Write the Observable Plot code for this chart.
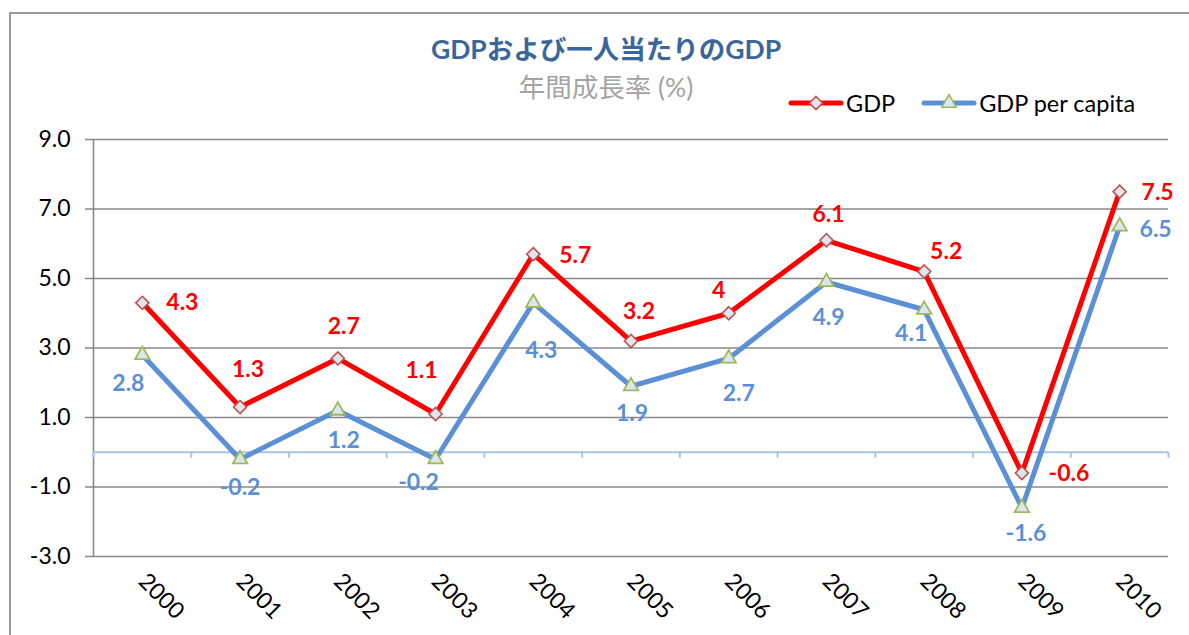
<!DOCTYPE html>
<html><head><meta charset="utf-8">
<script src="https://cdn.jsdelivr.net/npm/d3@7"></script>
<script src="https://cdn.jsdelivr.net/npm/@observablehq/plot@0.6"></script>
<style>
body{margin:0;overflow:hidden;background:#fff;font-family:Lato,"Noto Sans CJK JP",sans-serif}
#wrap{position:relative;width:1189px;height:635px}
#frame{position:absolute;left:9px;top:12px;width:1200px;height:660px;border:2px solid #9a9a9a;box-sizing:border-box}
#title{position:absolute;left:306px;width:600px;top:33px;text-align:center;font-size:26.5px;font-weight:bold;color:#3a669c;font-family:Lato,"Noto Sans CJK JP",sans-serif;line-height:32px}
#subtitle{position:absolute;left:306px;width:600px;top:71px;text-align:center;font-size:26.5px;color:#a3a3a3;line-height:32px}
#legend{position:absolute;left:788px;top:83px;font-size:23.5px;color:#000;line-height:30px;white-space:nowrap}
#legend span{display:inline-block;vertical-align:middle}
#chart{position:absolute;left:0;top:0}
</style></head>
<body>
<div id="wrap">
<div id="frame"></div>
<div id="chart"></div>
<div id="title">GDPおよび一人当たりのGDP</div>
<div id="subtitle">年間成長率 (%)</div>
<div id="legend"></div>
</div>
<script>
const years = ["2000","2001","2002","2003","2004","2005","2006","2007","2008","2009","2010"];
const gdp = [4.3, 1.3, 2.7, 1.1, 5.7, 3.2, 4, 6.1, 5.2, -0.6, 7.5];
const gdpPerCapita = [2.8, -0.2, 1.2, -0.2, 4.3, 1.9, 2.7, 4.9, 4.1, -1.6, 6.5];
const yTicks = [-3, -1, 1, 3, 5, 7, 9];
const seriesNames = ["GDP", "GDP per capita"];

// label placement (style)
const gdpLabelOffset = [[40,0],[8,-37],[6,-32],[-14,-43],[42,1],[8,-29],[-10,-23],[2,-26],[22,-20],[47,1],[38,1]];
const pcLabelOffset = [[-14,29],[0,28],[6,30],[-17,23],[8,48],[1,27],[10,35],[2,36],[-13,24],[4,26],[36,3]];

const red = "#ff0000", blue = "#5b8fd6";
const idx = d3.range(years.length);
const gdpData = idx.map(i => ({i, v: gdp[i], year: years[i]}));
const pcData = idx.map(i => ({i, v: gdpPerCapita[i], year: years[i]}));
const bounds = d3.range(years.length + 1).map(k => k - 0.5);
const fmt = v => String(v);

const labelMarks = [];
gdpData.forEach((d, k) => labelMarks.push(Plot.text([d], {x: "i", y: "v", text: d => fmt(d.v), dx: gdpLabelOffset[k][0], dy: gdpLabelOffset[k][1], fill: red, fontWeight: "bold", fontSize: 23})));
pcData.forEach((d, k) => labelMarks.push(Plot.text([d], {x: "i", y: "v", text: d => fmt(d.v), dx: pcLabelOffset[k][0], dy: pcLabelOffset[k][1], fill: blue, fontWeight: "bold", fontSize: 23})));

const chart = Plot.plot({
  width: 1189, height: 635,
  marginLeft: 93, marginRight: 21, marginTop: 139, marginBottom: 79,
  style: {fontFamily: "Lato, 'Noto Sans CJK JP', sans-serif", fontSize: "23px", color: "#000", background: "transparent"},
  x: {type: "linear", domain: [-0.5, years.length - 0.5]},
  y: {domain: [-3, 9]},
  marks: [
    Plot.ruleY(yTicks, {stroke: "#888", strokeWidth: 1.6, insetLeft: -8}),
    Plot.ruleX([-0.5], {y1: -3, y2: 9, stroke: "#888", strokeWidth: 1.6}),
    Plot.axisY({ticks: yTicks, tickFormat: d => d.toFixed(1), tickSize: 0, tickPadding: 23, fontSize: 23, fill: "#000", label: null}),
    Plot.axisX({ticks: idx, tickFormat: i => years[i], tickSize: 0, tickPadding: 21, tickRotate: 45, fontSize: 23, fill: "#000", label: null}),
    Plot.ruleY([0], {stroke: "#a8c3ea", strokeWidth: 2}),
    Plot.ruleX(bounds, {y1: 0, y2: 0, insetBottom: -6, stroke: "#a8c3ea", strokeWidth: 2}),
    Plot.line(gdpData, {x: "i", y: "v", stroke: red, strokeWidth: 5}),
    Plot.line(pcData, {x: "i", y: "v", stroke: blue, strokeWidth: 5}),
    Plot.dot(gdpData, {x: "i", y: "v", symbol: "diamond2", r: 5.9, fill: "#dde5f0", stroke: "#c0504d", strokeWidth: 1.6}),
    Plot.dot(pcData, {x: "i", y: "v", symbol: "triangle", r: 5.4, fill: "#dde5f0", stroke: "#9bbb59", strokeWidth: 1.8}),
    ...labelMarks
  ]
});
document.getElementById("chart").appendChild(chart);

// legend
const leg = d3.select("#legend");
function item(color, sym, symStroke, name, gap) {
  const s = leg.append("span").style("margin-right", gap + "px");
  const svg = s.append("svg").attr("width", 56).attr("height", 20).style("vertical-align", "middle");
  svg.append("line").attr("x1", 3).attr("x2", 53).attr("y1", 10).attr("y2", 10).attr("stroke", color).attr("stroke-width", 5).attr("stroke-linecap", "round");
  svg.append("path").attr("transform", "translate(28,10)").attr("d", d3.symbol(sym, sym === d3.symbolDiamond2 ? 108 : 92)()).attr("fill", "#dde5f0").attr("stroke", symStroke).attr("stroke-width", 1.6);
  s.append("span").text(name).style("margin-left", "2px");
}
item(red, d3.symbolDiamond2, "#c0504d", seriesNames[0], 26);
item(blue, d3.symbolTriangle, "#9bbb59", seriesNames[1], 0);
</script>
</body></html>
